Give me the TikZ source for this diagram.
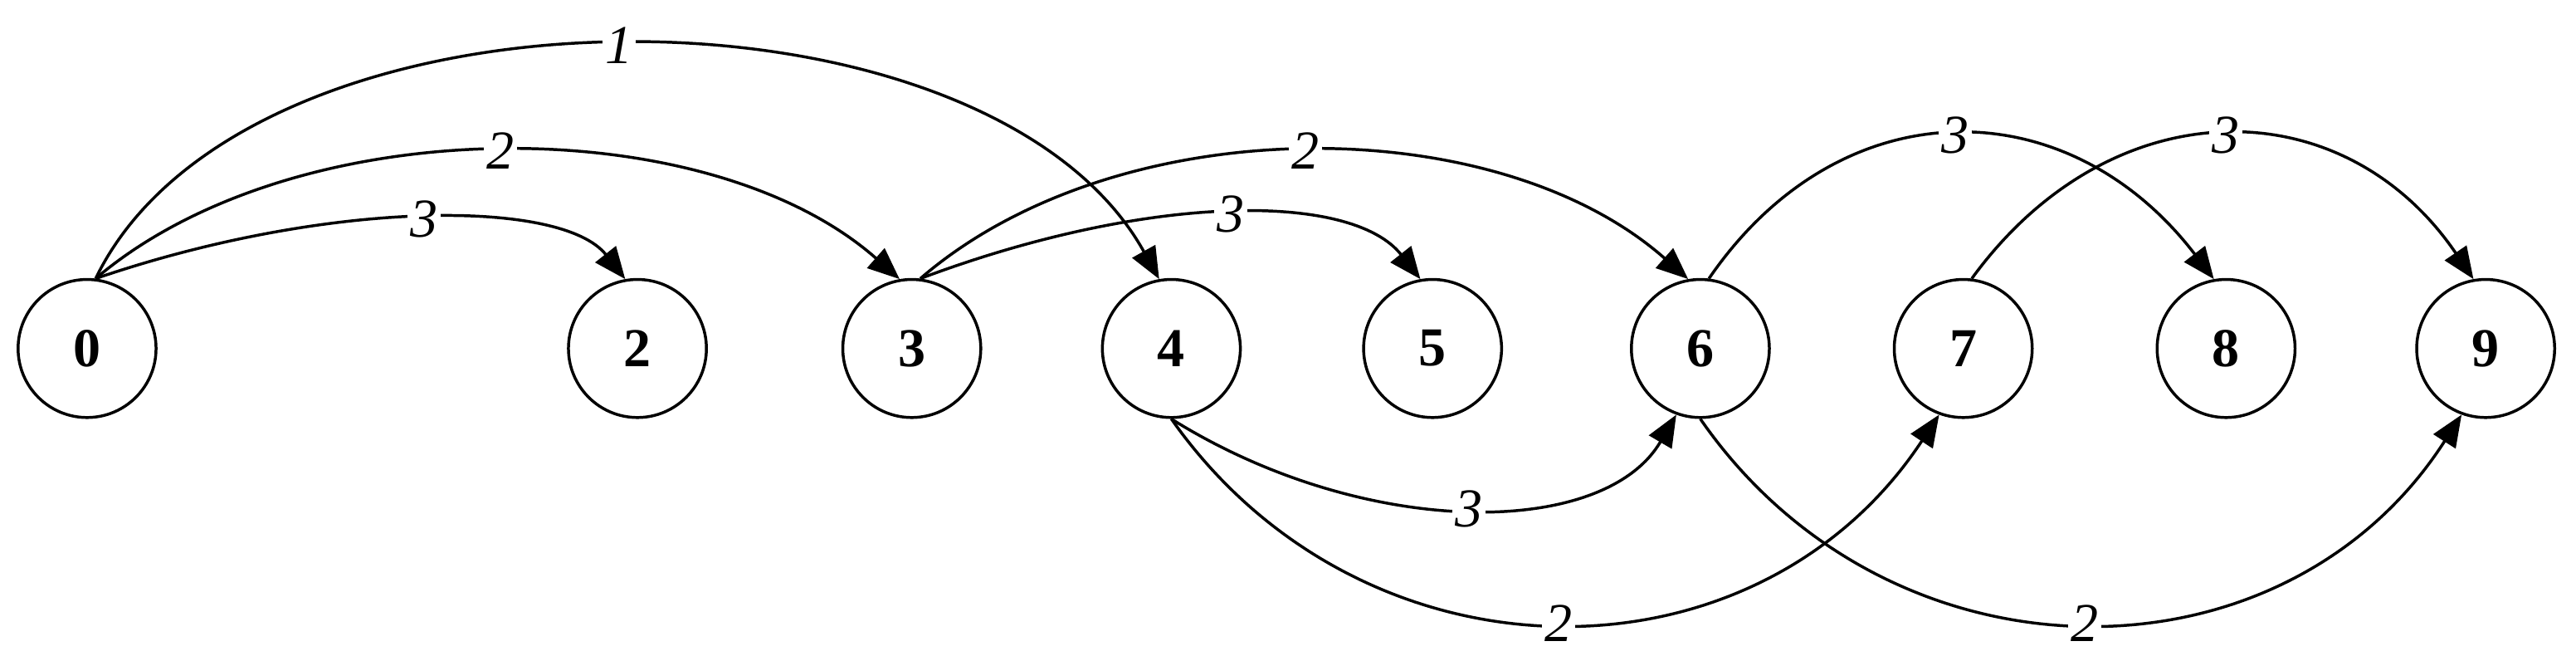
\documentclass[tikz,border=0pt]{standalone}
\usepackage{fontspec}
\setmainfont{Liberation Serif}
\usetikzlibrary{arrows.meta}
\begin{document}
\begin{tikzpicture}[x=0.02cm,y=-0.02cm,
  vtx/.style={circle,draw,line width=1pt,minimum size=1.68cm,inner sep=0pt,font=\fontsize{19}{19}\selectfont\bfseries},
  edge/.style={line width=1pt,-{Triangle[length=11pt,width=9pt]}},
  lbl/.style={fill=white,inner sep=1pt,font=\fontsize{19}{19}\selectfont\itshape}]
\useasboundingbox (0,0) rectangle (1568,399);
\foreach \n/\x in {0/53,2/388,3/555,4/713,5/872,6/1035,7/1195,8/1355,9/1513}
  \node[vtx] (n\n) at (\x,212) {\n};
\draw[edge] (n0.83) .. controls (150,-20) and (600,-20) .. node[lbl,pos=0.5]{1} (n4.100);
\draw[edge] (n0.83) .. controls (180,66) and (430,66) .. node[lbl,pos=0.5]{2} (n3.100);
\draw[edge] (n0.83) .. controls (200,121) and (342,121) .. node[lbl,pos=0.5]{3} (n2.100);
\draw[edge] (n3.83) .. controls (680,66) and (910,66) .. node[lbl,pos=0.5]{2} (n6.100);
\draw[edge] (n3.83) .. controls (700,117) and (823,117) .. node[lbl,pos=0.5]{3} (n5.100);
\draw[edge] (n6.83) .. controls (1120,53) and (1258,53) .. node[lbl,pos=0.5]{3} (n8.100);
\draw[edge] (n7.83) .. controls (1285,53) and (1426,53) .. node[lbl,pos=0.5]{3} (n9.100);
\draw[edge] (n4.-90) .. controls (830,328) and (976,328) .. node[lbl,pos=0.5]{3} (n6.-110);
\draw[edge] (n4.-90) .. controls (830,421) and (1069,421) .. node[lbl,pos=0.5]{2} (n7.-110);
\draw[edge] (n6.-90) .. controls (1150,421) and (1390,421) .. node[lbl,pos=0.5]{2} (n9.-110);
\end{tikzpicture}
\end{document}
